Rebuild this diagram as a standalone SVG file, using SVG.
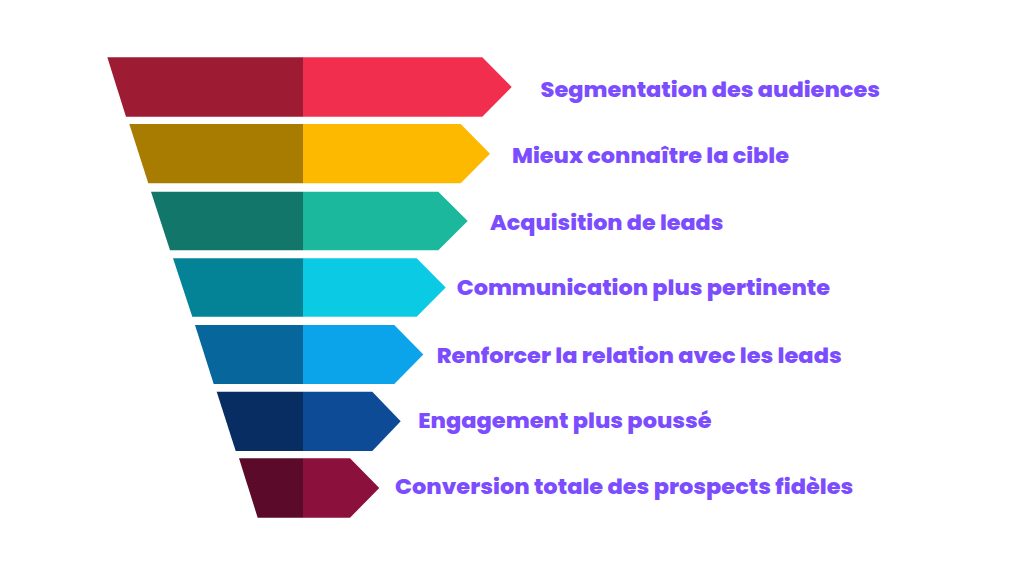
<svg xmlns="http://www.w3.org/2000/svg" width="1024" height="576" viewBox="0 0 1024 576">
<style>
.lbl{font-family:"Poppins","Inter","Noto Sans",sans-serif;font-weight:800;font-size:21.5px;fill:#7B4DFF}
</style>
<rect width="1024" height="576" fill="#FFFFFF"/>
<g id="stage1">
<polygon points="107.3,57.3 303,57.3 303,116.7 126,116.7" fill="#9E1B34"/>
<polygon points="303,57.3 482.3,57.3 511.7,87 482.3,116.7 303,116.7" fill="#F22E4E"/>
<text class="lbl" x="540.5" y="96.5" textLength="339.5" lengthAdjust="spacingAndGlyphs">Segmentation des audiences</text>
</g>
<g id="stage2">
<polygon points="129.3,124 303,124 303,183.3 148.3,183.3" fill="#A87C00"/>
<polygon points="303,124 460.7,124 490,153.7 460.7,183.3 303,183.3" fill="#FDB900"/>
<text class="lbl" x="512" y="162.5" textLength="277" lengthAdjust="spacingAndGlyphs">Mieux connaître la cible</text>
</g>
<g id="stage3">
<polygon points="151,191.7 303,191.7 303,250.3 170,250.3" fill="#12776A"/>
<polygon points="303,191.7 438.3,191.7 467.7,221 438.3,250.3 303,250.3" fill="#1CB89E"/>
<text class="lbl" x="490" y="229.8" textLength="233.3" lengthAdjust="spacingAndGlyphs">Acquisition de leads</text>
</g>
<g id="stage4">
<polygon points="173,258.3 303,258.3 303,316.7 192.3,316.7" fill="#048396"/>
<polygon points="303,258.3 416.7,258.3 445.7,287.5 416.7,316.7 303,316.7" fill="#0BCAE4"/>
<text class="lbl" x="456.7" y="295.3" textLength="373.3" lengthAdjust="spacingAndGlyphs">Communication plus pertinente</text>
</g>
<g id="stage5">
<polygon points="195,325 303,325 303,384 213.7,384" fill="#07669B"/>
<polygon points="303,325 394.3,325 423.3,354.5 394.3,384 303,384" fill="#0BA3EA"/>
<text class="lbl" x="436.7" y="362.8" textLength="405" lengthAdjust="spacingAndGlyphs">Renforcer la relation avec les leads</text>
</g>
<g id="stage6">
<polygon points="216.7,391.7 303,391.7 303,451 235.7,451" fill="#082D62"/>
<polygon points="303,391.7 372.3,391.7 400.7,421.3 372.3,451 303,451" fill="#0E4B96"/>
<text class="lbl" x="418.3" y="427.5" textLength="293.4" lengthAdjust="spacingAndGlyphs">Engagement plus poussé</text>
</g>
<g id="stage7">
<polygon points="239,458.3 303,458.3 303,517.7 257.7,517.7" fill="#5B0A29"/>
<polygon points="303,458.3 350,458.3 379.3,488 350,517.7 303,517.7" fill="#8C103C"/>
<text class="lbl" x="395" y="494" textLength="458.3" lengthAdjust="spacingAndGlyphs">Conversion totale des prospects fidèles</text>
</g>
<g id="connectors"/>
</svg>
